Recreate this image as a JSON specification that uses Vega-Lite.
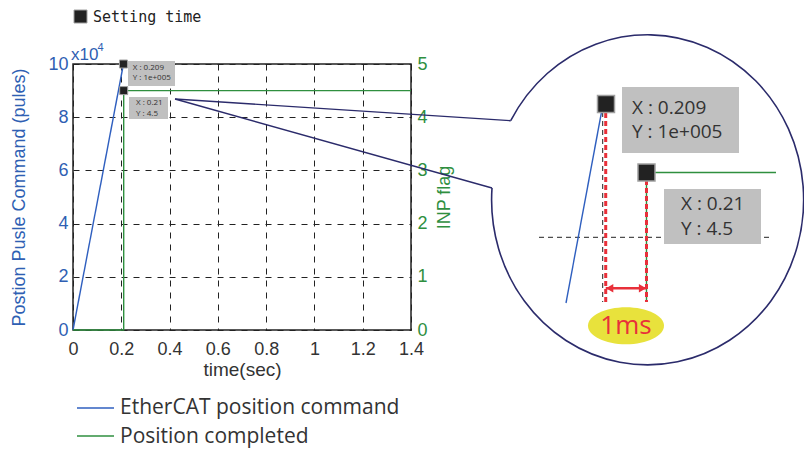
{
  "$schema": "https://vega.github.io/schema/vega-lite/v6.json",
  "width": 338,
  "height": 266,
  "autosize": {"type": "none"},
  "padding": {"left": 73, "top": 64, "right": 393, "bottom": 119},
  "background": "white",
  "config": {
    "view": {"stroke": "#222222", "strokeWidth": 1.5},
    "axis": {"labelFont": "Liberation Sans", "titleFont": "Liberation Sans", "titleFontWeight": "normal"}
  },
  "datasets": {
    "cmd": [{"t": 0, "p": 0}, {"t": 0.209, "p": 100000}],
    "inp": [{"t": 0, "f": 0}, {"t": 0.21, "f": 0}, {"t": 0.21, "f": 4.5}, {"t": 1.4, "f": 4.5}],
    "settleCmd": [{"t": 0.209, "p": 100000}],
    "settleInp": [{"t": 0.21, "f": 4.5}],
    "tipBoxSmall": [
      {"x": 0.2278, "x2": 0.4225, "y": 91729, "y2": 101128},
      {"x": 0.232, "x2": 0.3935, "y": 79323, "y2": 87594}
    ],
    "tipTextSmall": [
      {"x": 0.2473, "y": 98384, "label": "X : 0.209"},
      {"x": 0.2473, "y": 94624, "label": "Y : 1e+005"},
      {"x": 0.2609, "y": 85226, "label": "X : 0.21"},
      {"x": 0.2609, "y": 81203, "label": "Y : 4.5"}
    ],
    "connectors": [
      {"x": 0.4225, "y": 86842, "x2": 1.813, "y2": 78684},
      {"x": 0.4225, "y": 86842, "x2": 1.7355, "y2": 53383}
    ],
    "lens": [{"x": 2.3817, "y": 50376}],
    "zoomGrid": [
      {"x": 2.194, "y": 81955, "x2": 2.194, "y2": 10526},
      {"x": 1.9302, "y": 34850, "x2": 2.887, "y2": 34850}
    ],
    "zoomCmd": [{"x": 2.1953, "y": 84962, "x2": 2.042, "y2": 10150}],
    "zoomInp": [
      {"x": 2.3754, "y": 59211, "x2": 2.9118, "y2": 59211},
      {"x": 2.3754, "y": 59211, "x2": 2.3754, "y2": 10526}
    ],
    "zoomRed": [
      {"x": 2.2065, "y": 81579, "x2": 2.2065, "y2": 10526},
      {"x": 2.3754, "y": 56391, "x2": 2.3754, "y2": 10526}
    ],
    "gap": [{"x": 2.2065, "y": 15677, "x2": 2.3754, "y2": 15677}],
    "gapHeads": [
      {"x": 2.223, "y": 15677, "dir": "left"},
      {"x": 2.3589, "y": 15677, "dir": "right"}
    ],
    "gapLabel": [{"x": 2.2905, "y": 1600, "label": "1ms"}],
    "zoomBox": [
      {"x": 2.274, "x2": 2.7586, "y": 66541, "y2": 91353},
      {"x": 2.4479, "x2": 2.8497, "y": 32331, "y2": 53008}
    ],
    "zoomText": [
      {"x": 2.3154, "y": 83346, "label": "X : 0.209"},
      {"x": 2.3154, "y": 74549, "label": "Y : 1e+005"},
      {"x": 2.5183, "y": 47181, "label": "X : 0.21"},
      {"x": 2.5183, "y": 37970, "label": "Y : 4.5"}
    ],
    "zoomSettle": [{"x": 2.2077, "y": 84962}, {"x": 2.3754, "y": 59211}],
    "topLegend": [{"x": 0.0311, "y": 117857, "tx": 0.0828, "label": "Setting time"}],
    "scaleNote": [{"x": -0.0083, "y": 103383, "ex": 0.1015, "ey": 106015, "base": "x10", "exp": "4"}],
    "legend": [
      {"x": 0.0166, "x2": 0.1698, "y": -29323, "tx": 0.1947, "ty": -29323, "label": "EtherCAT position command", "series": "cmd"},
      {"x": 0.0166, "x2": 0.1698, "y": -39850, "tx": 0.1947, "ty": -40226, "label": "Position completed", "series": "inp"}
    ]
  },
  "layer": [
    {
      "layer": [
        {
          "data": {"name": "cmd"},
          "mark": {"type": "line", "color": "#2f5fbf", "strokeWidth": 1.4},
          "encoding": {
            "x": {
              "field": "t", "type": "quantitative",
              "scale": {"domain": [0, 1.4], "nice": false, "zero": false},
              "axis": {
                "title": "time(sec)", "values": [0, 0.2, 0.4, 0.6, 0.8, 1, 1.2, 1.4], "format": "~g",
                "grid": true, "gridDash": [6, 6], "gridColor": "#222222", "gridWidth": 1,
                "domain": false, "ticks": false, "labelFlush": false, "labelOverlap": false,
                "labelFontSize": 18, "labelColor": "#333333", "labelPadding": 10,
                "titleFontSize": 19, "titleColor": "#333333", "titlePadding": 2
              }
            },
            "y": {
              "field": "p", "type": "quantitative",
              "scale": {"domain": [0, 100000], "nice": false},
              "axis": {
                "title": "Postion Pusle Command (pules)", "values": [0, 20000, 40000, 60000, 80000, 100000],
                "labelExpr": "datum.value / 10000",
                "grid": true, "gridDash": [6, 6], "gridColor": "#222222", "gridWidth": 1,
                "domain": false, "ticks": false, "labelFlush": false, "labelOverlap": false,
                "labelFontSize": 18, "labelColor": "#2f5fb3", "labelPadding": 5,
                "titleFontSize": 18, "titleColor": "#2f5fb3", "titlePadding": 19
              }
            }
          }
        },
        {
          "data": {"name": "tipBoxSmall"},
          "mark": {"type": "rect", "color": "#c0c0c0"},
          "encoding": {
            "x": {"field": "x", "type": "quantitative"}, "x2": {"field": "x2"},
            "y": {"field": "y", "type": "quantitative"}, "y2": {"field": "y2"}
          }
        },
        {
          "data": {"name": "tipTextSmall"},
          "mark": {"type": "text", "font": "Open Sans", "fontSize": 8, "color": "#333333", "align": "left", "baseline": "middle"},
          "encoding": {
            "x": {"field": "x", "type": "quantitative"},
            "y": {"field": "y", "type": "quantitative"},
            "text": {"field": "label"}
          }
        },
        {
          "data": {"name": "connectors"},
          "mark": {"type": "rule", "color": "#2b2b6b", "strokeWidth": 1.4},
          "encoding": {
            "x": {"field": "x", "type": "quantitative"}, "x2": {"field": "x2"},
            "y": {"field": "y", "type": "quantitative"}, "y2": {"field": "y2"}
          }
        },
        {
          "data": {"name": "lens"},
          "mark": {"type": "point", "filled": false, "opacity": 1, "color": "#2b2b6b", "strokeWidth": 1.6, "size": 108900,
                   "shape": "M -0.8321 -0.4564 A 0.9455 1 0 1 1 -0.9455 -0.0485"},
          "encoding": {
            "x": {"field": "x", "type": "quantitative"},
            "y": {"field": "y", "type": "quantitative"}
          }
        },
        {
          "data": {"name": "zoomGrid"},
          "mark": {"type": "rule", "color": "#222222", "strokeWidth": 1, "strokeDash": [5, 4]},
          "encoding": {
            "x": {"field": "x", "type": "quantitative"}, "x2": {"field": "x2"},
            "y": {"field": "y", "type": "quantitative"}, "y2": {"field": "y2"}
          }
        },
        {
          "data": {"name": "zoomCmd"},
          "mark": {"type": "rule", "color": "#2f5fbf", "strokeWidth": 1.4},
          "encoding": {
            "x": {"field": "x", "type": "quantitative"}, "x2": {"field": "x2"},
            "y": {"field": "y", "type": "quantitative"}, "y2": {"field": "y2"}
          }
        },
        {
          "data": {"name": "zoomInp"},
          "mark": {"type": "rule", "color": "#2f8f3f", "strokeWidth": 1.4},
          "encoding": {
            "x": {"field": "x", "type": "quantitative"}, "x2": {"field": "x2"},
            "y": {"field": "y", "type": "quantitative"}, "y2": {"field": "y2"}
          }
        },
        {
          "data": {"name": "zoomRed"},
          "mark": {"type": "rule", "color": "#e8303a", "strokeWidth": 3, "strokeDash": [5, 3]},
          "encoding": {
            "x": {"field": "x", "type": "quantitative"}, "x2": {"field": "x2"},
            "y": {"field": "y", "type": "quantitative"}, "y2": {"field": "y2"}
          }
        },
        {
          "data": {"name": "gap"},
          "mark": {"type": "rule", "color": "#e8303a", "strokeWidth": 2.5},
          "encoding": {
            "x": {"field": "x", "type": "quantitative"}, "x2": {"field": "x2"},
            "y": {"field": "y", "type": "quantitative"}, "y2": {"field": "y2"}
          }
        },
        {
          "data": {"name": "gapHeads"},
          "mark": {"type": "point", "filled": true, "opacity": 1, "color": "#e8303a", "size": 70, "strokeWidth": 0},
          "encoding": {
            "x": {"field": "x", "type": "quantitative"},
            "y": {"field": "y", "type": "quantitative"},
            "shape": {"field": "dir", "type": "nominal", "scale": {"domain": ["left", "right"], "range": ["triangle-left", "triangle-right"]}, "legend": null}
          }
        },
        {
          "data": {"name": "gapLabel"},
          "mark": {"type": "point", "filled": true, "opacity": 1, "color": "#e8e23c", "size": 5776, "strokeWidth": 0,
                   "shape": "M -1 0 A 1 0.487 0 1 1 1 0 A 1 0.487 0 1 1 -1 0 Z"},
          "encoding": {
            "x": {"field": "x", "type": "quantitative"},
            "y": {"field": "y", "type": "quantitative"}
          }
        },
        {
          "data": {"name": "gapLabel"},
          "mark": {"type": "text", "font": "Open Sans", "fontSize": 26, "color": "#e8303a", "align": "center", "baseline": "middle"},
          "encoding": {
            "x": {"field": "x", "type": "quantitative"},
            "y": {"field": "y", "type": "quantitative"},
            "text": {"field": "label"}
          }
        },
        {
          "data": {"name": "zoomBox"},
          "mark": {"type": "rect", "color": "#c0c0c0"},
          "encoding": {
            "x": {"field": "x", "type": "quantitative"}, "x2": {"field": "x2"},
            "y": {"field": "y", "type": "quantitative"}, "y2": {"field": "y2"}
          }
        },
        {
          "data": {"name": "zoomText"},
          "mark": {"type": "text", "font": "Open Sans", "fontSize": 19, "color": "#333333", "align": "left", "baseline": "middle"},
          "encoding": {
            "x": {"field": "x", "type": "quantitative"},
            "y": {"field": "y", "type": "quantitative"},
            "text": {"field": "label"}
          }
        },
        {
          "data": {"name": "zoomSettle"},
          "mark": {"type": "point", "shape": "square", "filled": true, "opacity": 1, "fill": "#222222", "stroke": "#a0a0a0", "strokeWidth": 1.5, "size": 289},
          "encoding": {
            "x": {"field": "x", "type": "quantitative"},
            "y": {"field": "y", "type": "quantitative"}
          }
        },
        {
          "data": {"name": "settleCmd"},
          "mark": {"type": "point", "shape": "square", "filled": true, "opacity": 1, "fill": "#222222", "stroke": "#a0a0a0", "strokeWidth": 1, "size": 64},
          "encoding": {
            "x": {"field": "t", "type": "quantitative"},
            "y": {"field": "p", "type": "quantitative"}
          }
        },
        {
          "data": {"name": "topLegend"},
          "mark": {"type": "point", "shape": "square", "filled": true, "opacity": 1, "fill": "#222222", "stroke": "#a0a0a0", "strokeWidth": 1, "size": 169},
          "encoding": {
            "x": {"field": "x", "type": "quantitative"},
            "y": {"field": "y", "type": "quantitative"}
          }
        },
        {
          "data": {"name": "topLegend"},
          "mark": {"type": "text", "font": "DejaVu Sans Mono", "fontSize": 15, "color": "#222222", "align": "left", "baseline": "middle"},
          "encoding": {
            "x": {"field": "tx", "type": "quantitative"},
            "y": {"field": "y", "type": "quantitative"},
            "text": {"field": "label"}
          }
        },
        {
          "data": {"name": "scaleNote"},
          "mark": {"type": "text", "font": "Liberation Sans", "fontSize": 17, "color": "#2f5fb3", "align": "left", "baseline": "middle"},
          "encoding": {
            "x": {"field": "x", "type": "quantitative"},
            "y": {"field": "y", "type": "quantitative"},
            "text": {"field": "base"}
          }
        },
        {
          "data": {"name": "scaleNote"},
          "mark": {"type": "text", "font": "Liberation Sans", "fontSize": 11, "color": "#2f5fb3", "align": "left", "baseline": "middle"},
          "encoding": {
            "x": {"field": "ex", "type": "quantitative"},
            "y": {"field": "ey", "type": "quantitative"},
            "text": {"field": "exp"}
          }
        },
        {
          "data": {"name": "legend"},
          "mark": {"type": "rule", "strokeWidth": 1.3},
          "encoding": {
            "x": {"field": "x", "type": "quantitative"}, "x2": {"field": "x2"},
            "y": {"field": "y", "type": "quantitative"},
            "color": {"field": "series", "type": "nominal", "scale": {"domain": ["cmd", "inp"], "range": ["#2f5fbf", "#2f8f3f"]}, "legend": null}
          }
        },
        {
          "data": {"name": "legend"},
          "mark": {"type": "text", "font": "Open Sans", "fontSize": 21, "color": "#333333", "align": "left", "baseline": "middle"},
          "encoding": {
            "x": {"field": "tx", "type": "quantitative"},
            "y": {"field": "ty", "type": "quantitative"},
            "text": {"field": "label"}
          }
        }
      ]
    },
    {
      "layer": [
        {
          "data": {"name": "inp"},
          "mark": {"type": "line", "color": "#2f8f3f", "strokeWidth": 1.4},
          "encoding": {
            "x": {"field": "t", "type": "quantitative"},
            "y": {
              "field": "f", "type": "quantitative",
              "scale": {"domain": [0, 5], "nice": false},
              "axis": {
                "orient": "right", "title": "INP flag", "values": [0, 1, 2, 3, 4, 5],
                "grid": false, "domain": false, "ticks": false, "labelFlush": false, "labelOverlap": false,
                "labelFontSize": 18, "labelColor": "#2f8f3f", "labelPadding": 6,
                "titleFontSize": 18, "titleColor": "#2f8f3f", "titleAngle": 270, "titleBaseline": "top", "titlePadding": 8
              }
            }
          }
        },
        {
          "data": {"name": "settleInp"},
          "mark": {"type": "point", "shape": "square", "filled": true, "opacity": 1, "fill": "#222222", "stroke": "#a0a0a0", "strokeWidth": 1, "size": 64},
          "encoding": {
            "x": {"field": "t", "type": "quantitative"},
            "y": {"field": "f", "type": "quantitative"}
          }
        }
      ]
    }
  ],
  "resolve": {"scale": {"y": "independent"}, "axis": {"y": "independent"}}
}
